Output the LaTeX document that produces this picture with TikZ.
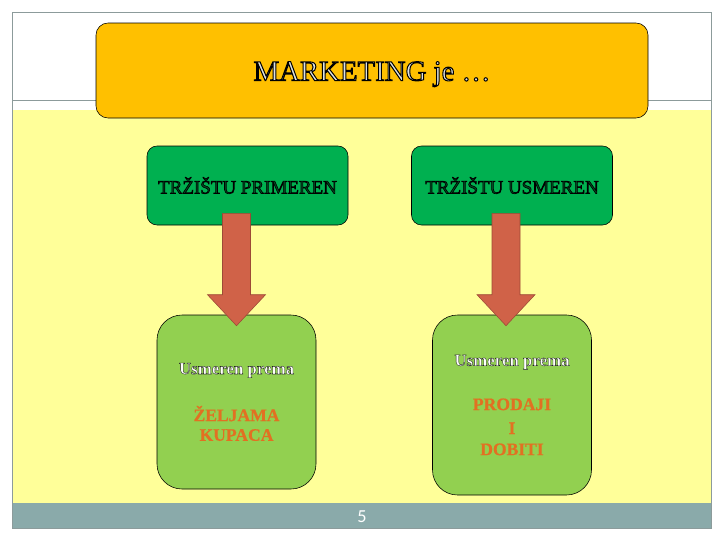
\documentclass[tikz,border=0pt]{standalone}
\usepackage{fontspec}
\usetikzlibrary{calc,positioning}
\setmainfont{Liberation Serif}
\newfontfamily\slidesans{Carlito}
\newfontfamily\outlinerm[FakeBold=3.5]{Liberation Serif}
\newfontfamily\outlinebf[FakeBold=2]{Liberation Serif Bold}
\newfontfamily\goalbf[FakeBold=0.6]{Liberation Serif Bold}
\definecolor{slideY}{RGB}{255,255,153}
\definecolor{slideO}{RGB}{255,192,0}
\definecolor{slideG}{RGB}{0,176,80}
\definecolor{slideL}{RGB}{146,208,80}
\definecolor{slideA}{RGB}{208,98,72}
\definecolor{slideF}{RGB}{138,170,170}
\definecolor{slideE}{RGB}{226,112,34}
\definecolor{slideRule}{RGB}{140,155,155}
\newlength\pxu
\setlength\pxu{0.025cm}
% stroke colour for the outlined (FakeBold) letters
\newcommand\strokergb[1]{\special{pdf:code #1 RG}}
\newcommand\usm{\outlinebf\fontsize{12}{14}\selectfont\color{white}\strokergb{0.12 0.12 0.12}}
\newcommand\goal{\goalbf\fontsize{12.5}{15.5}\selectfont\color{slideE}}
\newcommand\fatarrow[2]{\filldraw[arrowpart] ($(#1)+(-14,0)$) -- ($(#2)+(-14,-31)$) -- ($(#2)+(-29,-31)$)
  -- (#2) -- ($(#2)+(29,-31)$) -- ($(#2)+(14,-31)$) -- ($(#1)+(14,0)$) -- cycle;}
\begin{document}
\begin{tikzpicture}[x=0.025cm,y=-0.025cm,
  headbox/.style={draw=black,fill=slideO,rounded corners=12\pxu,minimum width=552\pxu,minimum height=95\pxu,
    inner sep=0pt,text height=19pt,text depth=4.5pt,text={rgb,255:red,222;green,226;blue,226},
    font=\outlinerm\fontsize{20.5}{24}\selectfont},
  marketbox/.style={draw=black,fill=slideG,rounded corners=10\pxu,minimum width=201\pxu,minimum height=79\pxu,
    inner sep=0pt,text=slideG!45!black,font=\outlinerm\fontsize{13.5}{16}\selectfont},
  aimbox/.style={draw=black,fill=slideL,rounded corners=25\pxu,minimum width=159\pxu,inner sep=0pt,align=center},
  arrowpart/.style={fill=slideA,draw=slideA!75!black,line width=0.4pt},
  pagenum/.style={text=white,font=\slidesans\fontsize{13}{15}\selectfont,inner sep=0pt}]
\useasboundingbox (0,0) rectangle (720,540);
% slide background
\fill[white] (0,0) rectangle (720,540);
\fill[slideY] (12,110) rectangle (711,503);
\fill[slideF] (12,503) rectangle (711,528);
\draw[slideRule] (12,100) -- (711,100);
\draw[slideRule] (12,12) rectangle (711,528);
\node[headbox] (head) at (372,70.5) {\strokergb{0 0 0}MARKETING je …};
\node[marketbox] (prim) at (247.5,185.5) {\strokergb{0 0 0}TRŽIŠTU PRIMEREN};
\node[marketbox] (usmer) at (512,185.5) {\strokergb{0 0 0}TRŽIŠTU USMEREN};
\node[aimbox,minimum height=174\pxu] (kupci) at (236.5,402)
  {\usm Usmeren prema\\[19pt]\goal ŽELJAMA\\[2pt]\goal KUPACA};
\node[aimbox,minimum height=180\pxu] (dobit) at (512,405)
  {\usm Usmeren prema\\[19.5pt]\goal PRODAJI\\[5pt]\goal I\\[3pt]\goal DOBITI};
% arrows
\coordinate (a1s) at ($(kupci.north |- prim.south)+(0,-12)$);
\coordinate (a1t) at ($(kupci.north)+(0,11)$);
\coordinate (a2s) at ($(dobit.north |- usmer.south)+(-6,-12)$);
\coordinate (a2t) at ($(dobit.north)+(-6,11)$);
\fatarrow{a1s}{a1t}
\fatarrow{a2s}{a2t}
\node[pagenum] (pnum) at (362,517) {5};
\end{tikzpicture}
\end{document}
